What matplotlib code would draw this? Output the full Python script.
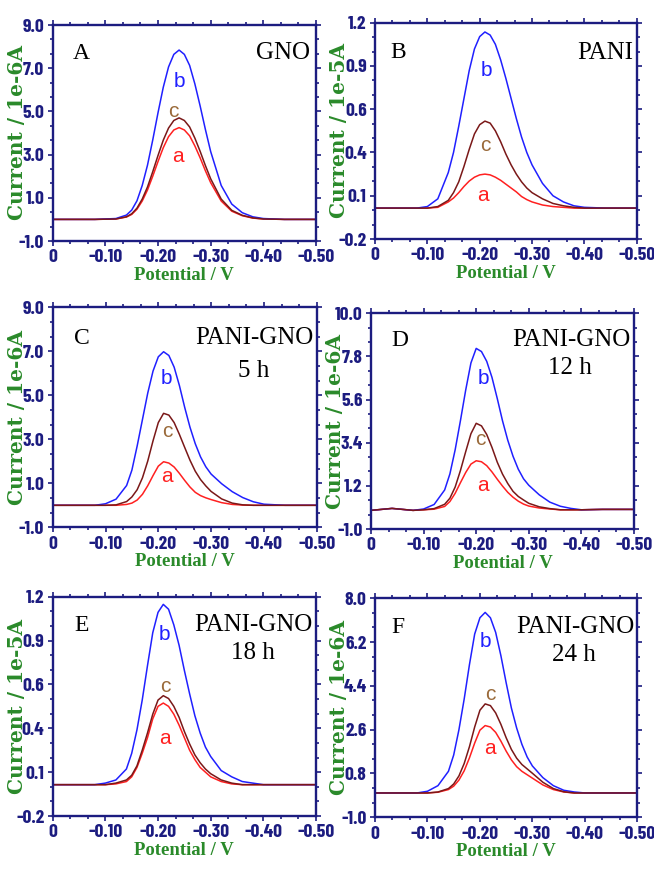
import matplotlib
matplotlib.use("Agg")
import matplotlib.pyplot as plt
from matplotlib import font_manager
from matplotlib.ticker import AutoMinorLocator, FixedLocator, FuncFormatter
import numpy as np

# ---------------- data ----------------
potential = [0, -0.04, -0.08, -0.10, -0.12, -0.14, -0.15, -0.16, -0.17, -0.18,
             -0.19, -0.20, -0.21, -0.22, -0.23, -0.24, -0.25, -0.26, -0.27, -0.28,
             -0.29, -0.30, -0.32, -0.34, -0.36, -0.38, -0.40, -0.44, -0.50]

A_b = [0, 0, 0, 0.02, 0.04, 0.20, 0.43, 0.86, 1.57, 2.51, 3.68, 4.94, 6.12, 7.06, 7.64,
       7.84, 7.64, 7.13, 6.27, 5.25, 4.16, 3.14, 1.57, 0.71, 0.31, 0.12, 0.04, 0, 0]
A_c = [0, 0, 0, 0.01, 0.02, 0.12, 0.26, 0.52, 0.94, 1.50, 2.21, 2.96, 3.67, 4.23, 4.58,
       4.70, 4.58, 4.28, 3.76, 3.15, 2.49, 1.88, 0.94, 0.42, 0.19, 0.07, 0.02, 0, 0]
A_a = [0, 0, 0, 0.01, 0.02, 0.11, 0.23, 0.47, 0.85, 1.36, 2.00, 2.68, 3.32, 3.83, 4.14,
       4.25, 4.14, 3.87, 3.40, 2.85, 2.25, 1.70, 0.85, 0.38, 0.17, 0.06, 0.02, 0, 0]

B_b = [0, 0, 0, 0.01, 0.06, 0.23, 0.36, 0.53, 0.71, 0.89, 1.03, 1.11, 1.14, 1.12, 1.06,
       0.96, 0.84, 0.71, 0.58, 0.46, 0.36, 0.28, 0.16, 0.08, 0.04, 0.015, 0.005, 0, 0]
B_c = [0, 0, 0, 0, 0.01, 0.05, 0.10, 0.17, 0.27, 0.38, 0.48, 0.54, 0.563, 0.55, 0.50,
       0.43, 0.35, 0.28, 0.22, 0.17, 0.13, 0.10, 0.06, 0.03, 0.015, 0.005, 0, 0, 0]
B_a = [0, 0, 0, 0, 0.005, 0.04, 0.065, 0.10, 0.14, 0.175, 0.20, 0.215, 0.22, 0.215, 0.20,
       0.18, 0.155, 0.13, 0.105, 0.075, 0.055, 0.04, 0.02, 0.01, 0.005, 0, 0, 0, 0]

C_b = [0, 0, 0, 0.07, 0.28, 0.9, 1.6, 2.7, 3.9, 5.1, 6.1, 6.75, 6.98, 6.81, 6.28,
       5.44, 4.45, 3.55, 2.80, 2.20, 1.75, 1.42, 0.98, 0.62, 0.35, 0.16, 0.05, 0, 0]
C_c = [0, 0, 0, 0, 0.02, 0.17, 0.38, 0.71, 1.25, 2.01, 2.93, 3.76, 4.18, 4.10, 3.76,
       3.22, 2.63, 2.05, 1.55, 1.17, 0.88, 0.63, 0.29, 0.10, 0.02, 0, 0, 0, 0]
C_a = [0, 0, 0, 0, 0, 0.04, 0.10, 0.24, 0.50, 0.89, 1.35, 1.78, 1.98, 1.92, 1.74,
       1.45, 1.13, 0.83, 0.59, 0.44, 0.34, 0.26, 0.12, 0.04, 0.01, 0, 0, 0, 0]

D_b = [-0.05, 0.05, -0.05, 0.02, 0.25, 0.99, 1.81, 3.04, 4.52, 6.08, 7.47, 8.21, 8.05, 7.55, 6.73,
       5.66, 4.52, 3.53, 2.71, 2.05, 1.56, 1.23, 0.74, 0.37, 0.16, 0.05, -0.02, 0, 0]
D_c = [-0.05, 0.05, -0.05, -0.02, 0.04, 0.26, 0.57, 1.14, 1.98, 2.94, 3.86, 4.39, 4.26, 3.82, 3.16,
       2.41, 1.80, 1.32, 0.92, 0.66, 0.48, 0.31, 0.13, 0.04, -0.02, -0.02, -0.02, 0, 0]
D_a = [-0.05, 0.05, -0.05, -0.02, 0.01, 0.15, 0.40, 0.82, 1.36, 1.88, 2.31, 2.48, 2.43, 2.23, 1.91,
       1.54, 1.19, 0.87, 0.62, 0.42, 0.27, 0.17, 0.07, 0.02, -0.02, -0.02, -0.02, 0, 0]

E_b = [0, 0, 0, 0.01, 0.03, 0.10, 0.20, 0.35, 0.54, 0.76, 0.97, 1.10, 1.151, 1.12, 1.02,
       0.89, 0.73, 0.58, 0.44, 0.33, 0.24, 0.18, 0.09, 0.05, 0.02, 0.01, 0, 0, 0]
E_c = [0, 0, 0, 0, 0.01, 0.03, 0.06, 0.12, 0.22, 0.33, 0.45, 0.54, 0.568, 0.55, 0.50,
       0.43, 0.34, 0.26, 0.19, 0.14, 0.10, 0.07, 0.03, 0.01, 0, 0, 0, 0, 0]
E_a = [0, 0, 0, 0, 0.005, 0.02, 0.05, 0.11, 0.20, 0.30, 0.42, 0.50, 0.521, 0.50, 0.45,
       0.38, 0.30, 0.22, 0.16, 0.11, 0.08, 0.05, 0.02, 0.005, 0, 0, 0, 0, 0]

F_b = [0, 0, 0, 0.07, 0.30, 0.89, 1.56, 2.60, 3.86, 5.27, 6.53, 7.20, 7.42, 7.20, 6.60,
       5.64, 4.53, 3.49, 2.67, 2.00, 1.48, 1.11, 0.63, 0.30, 0.11, 0.04, 0, 0, 0]
F_c = [0, 0, 0, 0, 0.04, 0.18, 0.37, 0.70, 1.21, 1.90, 2.71, 3.40, 3.66, 3.59, 3.29,
       2.82, 2.27, 1.79, 1.43, 1.17, 0.99, 0.81, 0.44, 0.18, 0.05, 0, 0, 0, 0]
F_a = [0, 0, 0, 0, 0.03, 0.14, 0.28, 0.53, 0.91, 1.44, 2.05, 2.58, 2.77, 2.71, 2.49,
       2.13, 1.72, 1.36, 1.08, 0.89, 0.75, 0.61, 0.33, 0.14, 0.04, 0, 0, 0, 0]

panel_letters = ["A", "B", "C", "D", "E", "F"]
panel_names = ["GNO", "PANI", "PANI-GNO", "PANI-GNO", "PANI-GNO", "PANI-GNO"]
panel_times = ["", "", "5 h", "12 h", "18 h", "24 h"]
y_units = ["1e-6A", "1e-5A", "1e-6A", "1e-6A", "1e-5A", "1e-6A"]
y_ranges = [(-1.0, 9.0), (-0.2, 1.2), (-1.0, 9.0), (-1.0, 10.0), (-0.2, 1.2), (-1.0, 8.0)]
x_ticks = [0, -0.10, -0.20, -0.30, -0.40, -0.50]

curves = [(A_a, A_b, A_c), (B_a, B_b, B_c), (C_a, C_b, C_c),
          (D_a, D_b, D_c), (E_a, E_b, E_c), (F_a, F_b, F_c)]

# positions of the a / b / c tags (potential, current)
tag_pos = [
    [(-0.238, 2.9), (-0.240, 6.4), (-0.229, 5.0)],
    [(-0.207, 0.084), (-0.213, 0.889), (-0.210, 0.406)],
    [(-0.216, 1.3), (-0.216, 5.77), (-0.218, 3.35)],
    [(-0.212, 1.24), (-0.214, 6.68), (-0.207, 3.54)],
    [(-0.213, 0.297), (-0.213, 0.959), (-0.214, 0.628)],
    [(-0.219, 1.84), (-0.210, 6.22), (-0.219, 4.03)],
]

# ---------------- style ----------------
navy = "#1c1c80"
green = "#2a8a2a"
line_colors = ["#ff2020", "#2020ff", "#7a1818"]
tag_colors = ["#ff2020", "#2020ff", "#9a6a3a"]

names = {f.name for f in font_manager.fontManager.ttflist}
if "Barlow Condensed" in names:
    tick_font, tick_size = "Barlow Condensed", 14
else:
    tick_font, tick_size = "Liberation Sans", 10.5

# axes boxes in pixels: left, top, right, bottom
W, H = 654, 872
boxes = [(52.7, 25, 316, 241), (375, 22.7, 636.7, 239),
         (52.7, 307.3, 316.7, 527.3), (371, 313.3, 634, 529),
         (52.7, 596.7, 316, 816), (375, 598.3, 637.3, 817.3)]
letter_xy = [(0.11, 0.87), (0.088, 0.86), (0.11, 0.86), (0.11, 0.875), (0.11, 0.87), (0.088, 0.868)]
name_xy = [(0.978, 0.87), (0.985, 0.86), (0.986, 0.86), (0.985, 0.875), (0.985, 0.87), (0.99, 0.868)]
time_xy = [None, None, (0.76, 0.71), (0.757, 0.745), (0.76, 0.745), (0.76, 0.74)]

fig = plt.figure(figsize=(W / 100, H / 100), dpi=100)

for k in range(6):
    l, t, r, b = boxes[k]
    ax = fig.add_axes([l / W, 1 - b / H, (r - l) / W, (b - t) / H])

    for ys, col in zip(curves[k], line_colors):
        ax.plot(potential, ys, color=col, lw=1.1)

    for (px, py), txt, col in zip(tag_pos[k], ["a", "b", "c"], tag_colors):
        ax.text(px, py, txt, color=col, fontsize=15, family="Liberation Sans",
                ha="center", va="center")

    ax.set_xlim(0, -0.5)
    y0, y1 = y_ranges[k]
    ax.set_ylim(y0, y1)
    ax.xaxis.set_major_locator(FixedLocator(x_ticks))
    ax.xaxis.set_major_formatter(FuncFormatter(lambda v, p: "0" if abs(v) < 1e-9 else "%.2f" % v))
    ax.yaxis.set_major_locator(FixedLocator(np.linspace(y0, y1, 6)))
    ax.yaxis.set_major_formatter(FuncFormatter(lambda v, p: "%.1f" % v))
    ax.xaxis.set_minor_locator(AutoMinorLocator(3))
    ax.yaxis.set_minor_locator(AutoMinorLocator(3))

    ax.tick_params(which="both", direction="out", top=True, right=True, color=navy, width=1.2)
    ax.tick_params(which="major", length=3.5, pad=2.5, labelcolor=navy, labelsize=tick_size)
    ax.tick_params(which="minor", length=2)
    for lab in ax.get_xticklabels() + ax.get_yticklabels():
        lab.set_family(tick_font)
        lab.set_fontweight("bold")
    for sp in ax.spines.values():
        sp.set_color(navy)
        sp.set_linewidth(1.7)

    ax.set_ylabel("Current / " + y_units[k], color=green, fontsize=14.5,
                  family="DejaVu Serif", fontweight="bold", va="center")
    ax.yaxis.set_label_coords(-36 / (r - l), 0.5)
    ax.set_xlabel("Potential / V", color=green, fontsize=13.5,
                  family="Liberation Serif", fontweight="bold", va="center")
    ax.xaxis.set_label_coords(0.5, -34 / (b - t))

    ax.text(letter_xy[k][0], letter_xy[k][1], panel_letters[k], transform=ax.transAxes,
            fontsize=17, family="Liberation Serif", ha="center", va="center")
    ax.text(name_xy[k][0], name_xy[k][1], panel_names[k], transform=ax.transAxes,
            fontsize=18, family="Liberation Serif", ha="right", va="center")
    if time_xy[k] is not None:
        ax.text(time_xy[k][0], time_xy[k][1], panel_times[k], transform=ax.transAxes,
                fontsize=18, family="Liberation Serif", ha="center", va="center")

fig.savefig("out.png", dpi=100)
